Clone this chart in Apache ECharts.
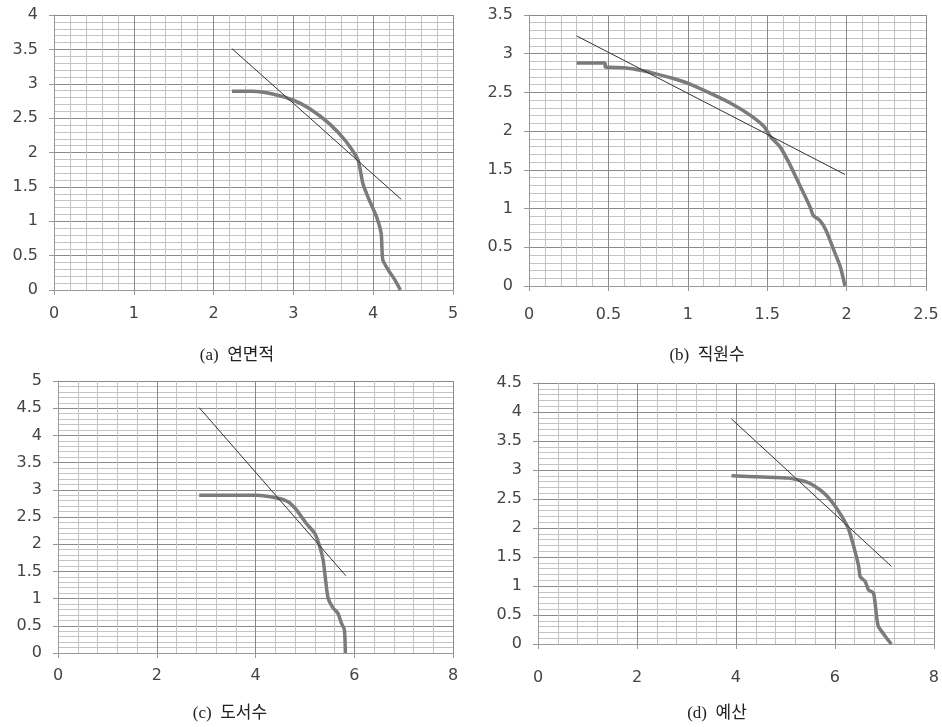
<!DOCTYPE html>
<html>
<head>
<meta charset="utf-8">
<script src="https://cdn.jsdelivr.net/npm/echarts@6/dist/echarts.min.js"></script>
<style>
  html, body { margin: 0; padding: 0; background: #fff; }
  #chart { width: 942px; height: 727px; }
</style>
</head>
<body>
<div id="chart"></div>
<script>
// (a) 연면적
var curveA = [[2.23, 2.89], [2.49, 2.89], [2.74, 2.85], [3.0, 2.76], [3.2, 2.64], [3.45, 2.42], [3.66, 2.16],
  [3.81, 1.89], [3.87, 1.55], [3.95, 1.31], [4.04, 1.07], [4.10, 0.82], [4.12, 0.44], [4.19, 0.29], [4.27, 0.15], [4.34, 0.0]];
var lineA = [[2.23, 3.51], [4.35, 1.32]];

// (b) 직원수
var curveB = [[0.30, 2.88], [0.48, 2.88], [0.48, 2.83], [0.60, 2.82], [0.72, 2.78], [0.80, 2.74], [0.91, 2.68],
  [1.01, 2.61], [1.14, 2.49], [1.27, 2.36], [1.39, 2.21], [1.48, 2.06], [1.52, 1.93], [1.58, 1.80], [1.64, 1.58],
  [1.71, 1.28], [1.77, 1.02], [1.79, 0.91], [1.83, 0.85], [1.87, 0.72], [1.92, 0.46], [1.96, 0.25], [1.99, 0.0]];
var lineB = [[0.30, 3.23], [1.99, 1.44]];

// (c) 도서수
var curveC = [[2.86, 2.90], [4.02, 2.90], [4.43, 2.85], [4.66, 2.78], [4.83, 2.63], [5.03, 2.38], [5.20, 2.20],
  [5.30, 1.96], [5.37, 1.71], [5.42, 1.34], [5.47, 1.01], [5.57, 0.83], [5.67, 0.73], [5.74, 0.55], [5.80, 0.43], [5.82, 0.0]];
var lineC = [[2.86, 4.51], [5.83, 1.42]];

// (d) 예산
var curveD = [[3.91, 2.90], [4.54, 2.88], [5.07, 2.86], [5.47, 2.78], [5.74, 2.63], [5.94, 2.45], [6.14, 2.20],
  [6.28, 1.97], [6.38, 1.68], [6.48, 1.34], [6.51, 1.16], [6.61, 1.08], [6.68, 0.93], [6.78, 0.88], [6.85, 0.42],
  [6.88, 0.30], [7.02, 0.13], [7.14, 0.0]];
var lineD = [[3.91, 3.88], [7.14, 1.34]];

var captions = ['(a)  연면적', '(b)  직원수', '(c)  도서수', '(d)  예산'];
var xMax = [5, 2.5, 8, 8];
var xStep = [1, 0.5, 2, 2];
var yMax = [4, 3.5, 5, 4.5];

var grids = [
  {left: 54, top: 15, width: 399, height: 275},
  {left: 529, top: 15, width: 397, height: 271},
  {left: 58, top: 381, width: 395, height: 272},
  {left: 538, top: 383, width: 398, height: 261}
];
var xLabelMargin = [16, 21, 15, 26];
var captionPos = [[232, 342], [702, 342], [225, 700], [712, 700]];

var chart = echarts.init(document.getElementById('chart'));

var labelStyle = {color: '#444', fontSize: 16, fontFamily: '"DejaVu Sans", sans-serif'};

function axis(i, isX) {
  return {
    type: 'value',
    gridIndex: i,
    min: 0,
    max: isX ? xMax[i] : yMax[i],
    interval: isX ? xStep[i] : 0.5,
    axisLine: {show: true, onZero: false, lineStyle: {color: '#999', width: 1}},
    axisTick: {show: true, length: 5, lineStyle: {color: '#999'}},
    axisLabel: Object.assign({margin: isX ? xLabelMargin[i] : 16}, labelStyle),
    splitLine: {show: true, lineStyle: {color: '#8a8a8a', width: 1}},
    minorTick: {show: false, splitNumber: 5},
    minorSplitLine: {show: true, lineStyle: {color: '#c4c4c4', width: 1}}
  };
}

var curves = [curveA, curveB, curveC, curveD];
var lines = [lineA, lineB, lineC, lineD];
var series = [];
for (var i = 0; i < 4; i++) {
  series.push({
    type: 'line', xAxisIndex: i, yAxisIndex: i, data: curves[i],
    symbol: 'none', smooth: 0.2,
    lineStyle: {color: '#7b7b7b', width: 3.5}
  });
  series.push({
    type: 'line', xAxisIndex: i, yAxisIndex: i, data: lines[i],
    symbol: 'none',
    lineStyle: {color: '#333', width: 1}
  });
}

chart.setOption({
  animation: false,
  backgroundColor: '#fff',
  title: captions.map(function (c, i) {
    return {
      text: c, left: captionPos[i][0], top: captionPos[i][1], textAlign: 'center',
      textStyle: {fontSize: 17, fontWeight: 'normal', color: '#222', fontFamily: 'Liberation Serif, Noto Sans CJK KR'}
    };
  }),
  grid: grids,
  xAxis: [0, 1, 2, 3].map(function (i) { return axis(i, true); }),
  yAxis: [0, 1, 2, 3].map(function (i) { return axis(i, false); }),
  series: series
});
</script>
</body>
</html>
